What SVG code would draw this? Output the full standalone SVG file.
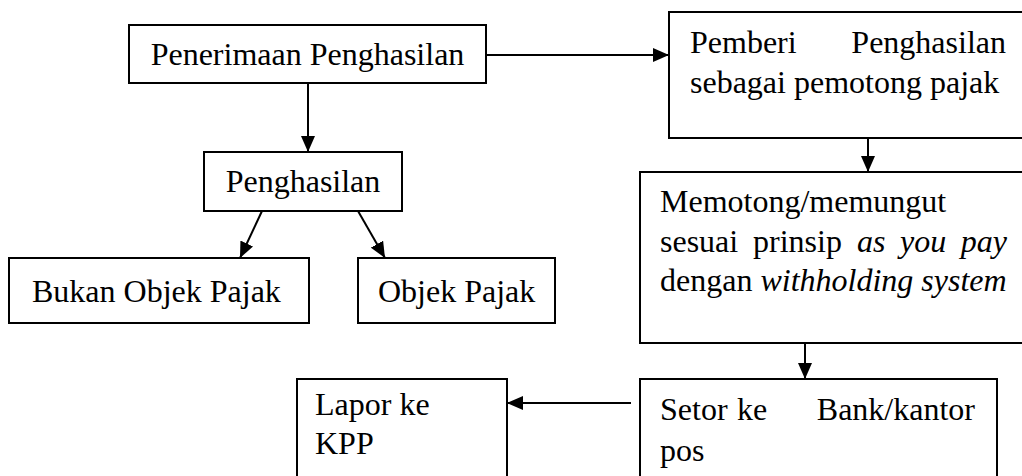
<svg xmlns="http://www.w3.org/2000/svg" width="1022" height="476" viewBox="0 0 1022 476">
  <style>
    .box { fill: #ffffff; stroke: #000000; stroke-width: 2; }
    .lbl { font-family: "Liberation Serif", "Times New Roman", "DejaVu Serif", serif; font-size: 32px; fill: #000000; }
    .it { font-style: italic; }
    .conn { stroke: #000000; stroke-width: 2; fill: none; marker-end: url(#arrow); }
  </style>
  <defs>
    <marker id="arrow" markerUnits="userSpaceOnUse" markerWidth="16" markerHeight="14" refX="16" refY="7" orient="auto">
      <path d="M0,0 L16,7 L0,14 z" fill="#000000"/>
    </marker>
  </defs>
  <rect width="1022" height="476" fill="#ffffff"/>

  <!-- connectors -->
  <g id="connectors">
    <line class="conn" x1="486" y1="55" x2="669" y2="55"/>
    <line class="conn" x1="308" y1="83" x2="308" y2="152"/>
    <line class="conn" x1="262" y1="211" x2="240" y2="258"/>
    <line class="conn" x1="358" y1="211" x2="385" y2="258"/>
    <line class="conn" x1="868" y1="138" x2="868" y2="172"/>
    <line class="conn" x1="805" y1="343" x2="805" y2="379"/>
    <line class="conn" x1="631" y1="403" x2="507" y2="403"/>
  </g>

  <g id="penerimaan">
    <rect class="box" x="129" y="25" width="357" height="58"/>
    <text class="lbl" x="307.5" y="65" text-anchor="middle">Penerimaan Penghasilan</text>
  </g>

  <g id="penghasilan">
    <rect class="box" x="204" y="152" width="198" height="59"/>
    <text class="lbl" x="303" y="192" text-anchor="middle">Penghasilan</text>
  </g>

  <g id="bukan-objek">
    <rect class="box" x="9" y="258" width="300" height="65"/>
    <text class="lbl" x="32" y="302">Bukan Objek Pajak</text>
  </g>

  <g id="objek">
    <rect class="box" x="358" y="258" width="197" height="65"/>
    <text class="lbl" x="378" y="302">Objek Pajak</text>
  </g>

  <g id="pemberi">
    <rect class="box" x="669" y="12" width="370" height="126"/>
    <text class="lbl" y="53"><tspan x="690">Pemberi</tspan><tspan x="1006" text-anchor="end">Penghasilan</tspan></text>
    <text class="lbl" x="690" y="93">sebagai pemotong pajak</text>
  </g>

  <g id="memotong">
    <rect class="box" x="640" y="172" width="400" height="171"/>
    <text class="lbl" x="660" y="212">Memotong/memungut</text>
    <text class="lbl" y="252"><tspan x="660">sesuai</tspan><tspan x="753">prinsip</tspan><tspan class="it" x="857">as</tspan><tspan class="it" x="900">you</tspan><tspan class="it" x="1007" text-anchor="end">pay</tspan></text>
    <text class="lbl" x="660" y="291">dengan <tspan class="it">withholding system</tspan></text>
  </g>

  <g id="setor">
    <rect class="box" x="640" y="379" width="357" height="110"/>
    <text class="lbl" y="420"><tspan x="660">Setor</tspan><tspan x="737">ke</tspan><tspan x="975" text-anchor="end">Bank/kantor</tspan></text>
    <text class="lbl" x="660" y="461">pos</text>
  </g>

  <g id="lapor">
    <rect class="box" x="297" y="379" width="210" height="110"/>
    <text class="lbl" x="315" y="415">Lapor ke</text>
    <text class="lbl" x="315" y="454">KPP</text>
  </g>
</svg>
